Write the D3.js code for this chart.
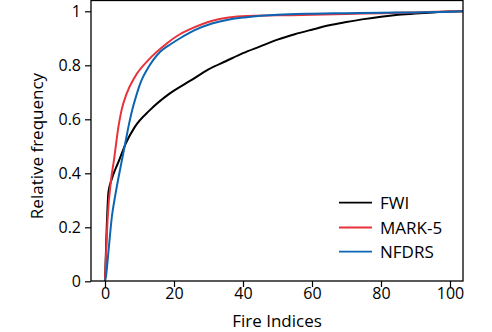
<!DOCTYPE html>
<html>
<head>
<meta charset="utf-8">
<script src="https://cdn.jsdelivr.net/npm/d3@7"></script>
<style>
    body { margin: 0; background: #fff; }
    svg { font-family: "Open Sans", sans-serif; }
</style>
</head>
<body>
<svg id="chart"></svg>
<script>
// values
const seriesNames = ["FWI", "MARK-5", "NFDRS"]
const seriesColors = ["#000000", "#e8333b", "#0b65b2"]

const fwiX = [0, 0.5, 1, 2, 3, 4, 6, 8.7, 13, 18.8, 25, 30, 35, 40, 45, 50, 55, 60, 65, 70, 75, 80, 85, 90, 95, 100, 104]
const fwiY = [0, 0.2, 0.33, 0.38, 0.415, 0.445, 0.51, 0.573, 0.634, 0.696, 0.745, 0.785, 0.815, 0.845, 0.87, 0.895, 0.915, 0.932, 0.948, 0.96, 0.971, 0.98, 0.987, 0.992, 0.996, 0.999, 1]

const markX = [0, 0.8, 1.8, 2.6, 3.9, 4.8, 6.3, 8.7, 12.6, 17.9, 21.7, 24.2, 31.4, 41, 50, 60, 70, 80, 90, 100, 104]
const markY = [0, 0.24, 0.38, 0.449, 0.573, 0.634, 0.696, 0.758, 0.82, 0.881, 0.915, 0.931, 0.966, 0.983, 0.985, 0.987, 0.99, 0.993, 0.996, 0.999, 1]

const nfdrsX = [0, 0.3, 1, 2, 3, 4, 5, 6, 7, 8, 9, 10, 11, 12, 14, 16, 19, 22, 26, 31, 36, 41, 50, 60, 70, 80, 90, 100, 104]
const nfdrsY = [0, 0.02, 0.11, 0.24, 0.32, 0.39, 0.455, 0.52, 0.585, 0.64, 0.685, 0.725, 0.756, 0.78, 0.82, 0.85, 0.878, 0.902, 0.93, 0.955, 0.97, 0.978, 0.987, 0.991, 0.993, 0.995, 0.996, 0.998, 1]

const xTicks = [0, 20, 40, 60, 80, 100]
const yTicks = [0, 0.2, 0.4, 0.6, 0.8, 1]

const seriesX = [fwiX, markX, nfdrsX]
const seriesY = [fwiY, markY, nfdrsY]

const width = 492
const height = 332
const box = { left: 91, right: 463, top: 0.5, bottom: 281 }

const svg = d3.select("#chart")
    .attr("width", width)
    .attr("height", height)

const scaleX = d3.scaleLinear()
    .domain([0, 100])
    .range([105, 450])

const scaleY = d3.scaleLinear()
    .domain([0, 1])
    .range([281.3, 11.3])

svg.append("clipPath")
    .attr("id", "plotClip")
    .append("rect")
    .attr("x", box.left)
    .attr("y", box.top)
    .attr("width", box.right - box.left)
    .attr("height", box.bottom - box.top)

// lines
const line = d3.line()
    .x(d => scaleX(d[0]))
    .y(d => scaleY(d[1]))
    .curve(d3.curveMonotoneX)

seriesNames.forEach((name, i) => {
    const pts = seriesX[i].map((x, j) => [x, seriesY[i][j]])
    svg.append("path")
        .datum(pts)
        .attr("clip-path", "url(#plotClip)")
        .attr("fill", "none")
        .attr("stroke", seriesColors[i])
        .attr("stroke-width", 2)
        .attr("d", line)
})

// frame
svg.append("rect")
    .attr("x", box.left)
    .attr("y", box.top)
    .attr("width", box.right - box.left)
    .attr("height", box.bottom - box.top)
    .attr("fill", "none")
    .attr("stroke", "#000")
    .attr("stroke-width", 1.3)

const xAxis = d3.axisBottom(scaleX)
    .tickValues(xTicks)
    .tickFormat(d3.format("d"))
    .tickSizeInner(6)
    .tickSizeOuter(0)
    .tickPadding(1)

const yAxis = d3.axisLeft(scaleY)
    .tickValues(yTicks)
    .tickFormat(d => d === 0 || d === 1 ? d : d3.format(".1f")(d))
    .tickSizeInner(6)
    .tickSizeOuter(0)
    .tickPadding(4)

const gx = svg.append("g")
    .attr("transform", "translate(0," + box.bottom + ")")
    .call(xAxis)
gx.select(".domain").remove()

const gy = svg.append("g")
    .attr("transform", "translate(" + box.left + ",0)")
    .call(yAxis)
gy.select(".domain").remove()

svg.selectAll(".tick line").attr("stroke", "#000").attr("stroke-width", 1.2)
svg.selectAll(".tick text")
    .attr("fill", "#000")
    .style("font-family", "'Open Sans', sans-serif")
    .style("font-size", "16px")

// axis titles
svg.append("text")
    .attr("x", 277)
    .attr("y", 327)
    .attr("text-anchor", "middle")
    .style("font-size", "17px")
    .text("Fire Indices")

svg.append("text")
    .attr("transform", "translate(43,146) rotate(-90)")
    .attr("text-anchor", "middle")
    .style("font-size", "17px")
    .text("Relative frequency")

// legend
const legendY = [202.7, 227.5, 251.7]
seriesNames.forEach((name, i) => {
    svg.append("line")
        .attr("x1", 339)
        .attr("x2", 372)
        .attr("y1", legendY[i])
        .attr("y2", legendY[i])
        .attr("stroke", seriesColors[i])
        .attr("stroke-width", 1.8)
    svg.append("text")
        .attr("x", 380)
        .attr("y", legendY[i])
        .attr("dy", "0.36em")
        .style("font-size", "17px")
        .text(name)
})
</script>
</body>
</html>
